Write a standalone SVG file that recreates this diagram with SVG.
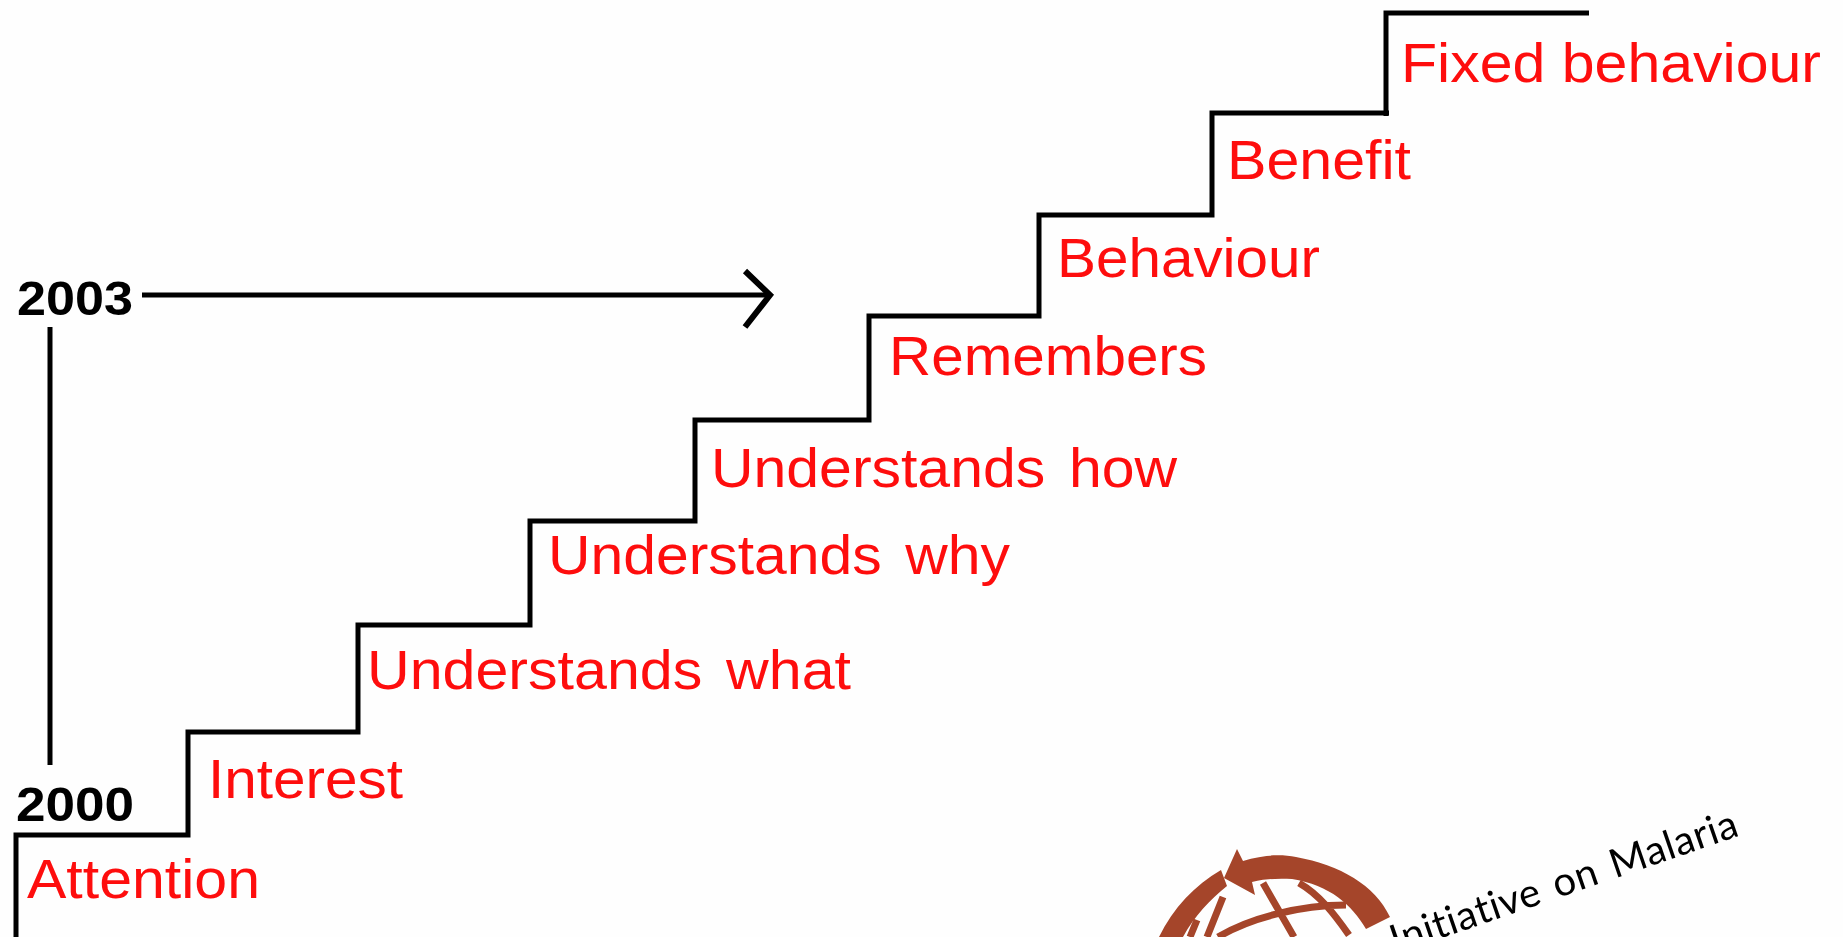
<svg xmlns="http://www.w3.org/2000/svg" width="1843" height="937" viewBox="0 0 1843 937">
<style>
.step{font:56px "Liberation Sans",Arial,sans-serif;fill:#fe0a0a}
.wide{word-spacing:7px}
.year{font:bold 48px "Liberation Sans",Arial,sans-serif;fill:#000}
.ln{fill:none;stroke:#000;stroke-width:5}
.head{stroke-width:6}
.logo{fill:#a5452a}
.gl{fill:none;stroke:#a5452a;stroke-width:7}
</style>
<defs><filter id="soft" filterUnits="userSpaceOnUse" x="0" y="0" width="1843" height="937"><feGaussianBlur stdDeviation="0.6"/></filter></defs>
<rect width="1843" height="937" fill="#fefefe"/>
<g filter="url(#soft)">
<g id="connectors">
<path class="ln" d="M16 937V835H188V732H358V625H530V521H695V420H869V316H1039V215H1212V113H1389"/>
<path class="ln" d="M1386 116V13H1589"/>
<path class="ln" d="M50 327V765"/>
<path class="ln" d="M142 295H770"/>
<path class="ln head" d="M745 271L770 295L745 327"/>
</g>
<g id="n-2000"><text class="year" x="16" y="821" textLength="118" lengthAdjust="spacingAndGlyphs">2000</text></g>
<g id="n-2003"><text class="year" x="17" y="315" textLength="116" lengthAdjust="spacingAndGlyphs">2003</text></g>
<g id="n-attention"><text class="step" x="27" y="898" textLength="233" lengthAdjust="spacingAndGlyphs">Attention</text></g>
<g id="n-interest"><text class="step" x="208" y="798" textLength="195" lengthAdjust="spacingAndGlyphs">Interest</text></g>
<g id="n-what"><text class="step wide" x="367" y="689" textLength="484" lengthAdjust="spacingAndGlyphs">Understands what</text></g>
<g id="n-why"><text class="step wide" x="548" y="574" textLength="462" lengthAdjust="spacingAndGlyphs">Understands why</text></g>
<g id="n-how"><text class="step wide" x="711" y="487" textLength="466" lengthAdjust="spacingAndGlyphs">Understands how</text></g>
<g id="n-remembers"><text class="step" x="889" y="375" textLength="318" lengthAdjust="spacingAndGlyphs">Remembers</text></g>
<g id="n-behaviour"><text class="step" x="1057" y="277" textLength="263" lengthAdjust="spacingAndGlyphs">Behaviour</text></g>
<g id="n-benefit"><text class="step" x="1227" y="179" textLength="184" lengthAdjust="spacingAndGlyphs">Benefit</text></g>
<g id="n-fixed"><text class="step" x="1401" y="82" textLength="420" lengthAdjust="spacingAndGlyphs">Fixed behaviour</text></g>
<g id="logo">
<path class="logo" d="M1237 849L1243 861C1262 855 1280 854 1296 857C1340 865 1375 885 1390 917L1366 929C1352 905 1330 885 1292 879C1278 878 1265 879 1252 882L1255 895L1224 878ZM1221 870L1227 886C1210 900 1195 915 1183 937H1159C1173 908 1195 885 1221 870Z"/>
<path class="gl" d="M1263 883L1294 937M1299 883C1320 895 1335 915 1349 935M1223 897L1207 937M1197 920L1190 937M1346 905C1300 905 1250 918 1218 937"/>
<text transform="translate(1741 835) rotate(-19)" text-anchor="end" font-family="Lato,sans-serif" font-size="40" fill="#000" style="word-spacing:4px;letter-spacing:.5px">Initiative on Malaria</text>
</g>
</g>
</svg>
